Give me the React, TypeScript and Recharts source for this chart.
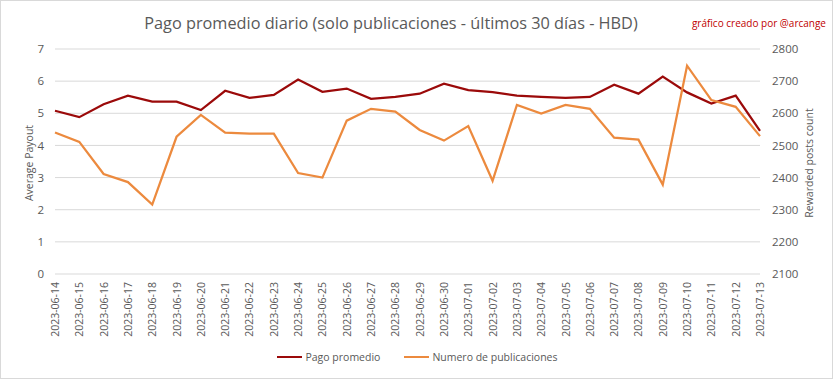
import React from 'react';
import { LineChart, Line, XAxis, YAxis, CartesianGrid, Legend } from 'recharts';

const dates = [
  '2023-06-14', '2023-06-15', '2023-06-16', '2023-06-17', '2023-06-18', '2023-06-19',
  '2023-06-20', '2023-06-21', '2023-06-22', '2023-06-23', '2023-06-24', '2023-06-25',
  '2023-06-26', '2023-06-27', '2023-06-28', '2023-06-29', '2023-06-30', '2023-07-01',
  '2023-07-02', '2023-07-03', '2023-07-04', '2023-07-05', '2023-07-06', '2023-07-07',
  '2023-07-08', '2023-07-09', '2023-07-10', '2023-07-11', '2023-07-12', '2023-07-13',
];

const pagoPromedio = [
  5.08, 4.88, 5.28, 5.55, 5.36, 5.36, 5.1, 5.7, 5.48, 5.57, 6.05, 5.67, 5.77, 5.45, 5.51,
  5.61, 5.92, 5.72, 5.66, 5.55, 5.51, 5.48, 5.51, 5.89, 5.61, 6.14, 5.65, 5.3, 5.55, 4.45,
];

const numeroPublicaciones = [
  2540, 2511, 2411, 2386, 2316, 2527, 2595, 2540, 2537, 2537, 2414, 2400, 2577, 2614, 2605,
  2548, 2515, 2560, 2390, 2626, 2599, 2626, 2614, 2524, 2518, 2378, 2748, 2641, 2620, 2529,
];

const leftTicks = [0, 1, 2, 3, 4, 5, 6, 7];
const rightTicks = [2100, 2200, 2300, 2400, 2500, 2600, 2700, 2800];

const seriesNames = ['Pago promedio', 'Numero de publicaciones'];
const seriesColors = ['#9B0A0A', '#EC8A3E'];

const data = dates.map((d, i) => ({
  date: d,
  pago: pagoPromedio[i],
  num: numeroPublicaciones[i],
}));

const FONT = '"Open Sans", sans-serif';
const GRAY = '#595959';

const XTick = (props: any) => {
  const { x, y, payload } = props;
  return (
    <text
      x={x}
      y={y}
      transform={`rotate(-90, ${x}, ${y})`}
      textAnchor="end"
      dominantBaseline="central"
      fill={GRAY}
      fontSize={10.5}
      fontFamily={FONT}
    >
      {payload.value}
    </text>
  );
};

const LegendContent = () => (
  <div
    style={{
      display: 'flex',
      justifyContent: 'center',
      alignItems: 'center',
      fontFamily: FONT,
      fontSize: 10.5,
      color: GRAY,
      height: 28,
    }}
  >
    {seriesNames.map((n, i) => (
      <div key={n} style={{ display: 'flex', alignItems: 'center', margin: '0 12px' }}>
        <div style={{ width: 25, height: 2.5, background: seriesColors[i], marginRight: 3 }} />
        <span>{n}</span>
      </div>
    ))}
  </div>
);

export default function App() {
  return (
    <div
      style={{
        position: 'relative',
        width: 833,
        height: 379,
        boxSizing: 'border-box',
        border: '1px solid #d9d9d9',
        background: '#fff',
        overflow: 'hidden',
      }}
    >
      <style>{'body{margin:0;}'}</style>
      <div
        style={{
          position: 'absolute',
          top: 10,
          left: 0,
          width: 780,
          textAlign: 'center',
          fontFamily: FONT,
          fontSize: 16.3,
          color: GRAY,
          lineHeight: '24px',
        }}
      >
        Pago promedio diario (solo publicaciones - últimos 30 días - HBD)
      </div>
      <div
        style={{
          position: 'absolute',
          top: 14,
          right: 6,
          fontFamily: FONT,
          fontSize: 10,
          color: '#C00000',
          lineHeight: '16px',
        }}
      >
        gráfico creado por @arcange
      </div>
      <div
        style={{
          position: 'absolute',
          left: 28,
          top: 162,
          transform: 'translate(-50%, -50%) rotate(-90deg)',
          fontFamily: FONT,
          fontSize: 10.5,
          color: GRAY,
          whiteSpace: 'nowrap',
        }}
      >
        Average Payout
      </div>
      <div
        style={{
          position: 'absolute',
          left: 808,
          top: 162,
          transform: 'translate(-50%, -50%) rotate(-90deg)',
          fontFamily: FONT,
          fontSize: 10.5,
          color: GRAY,
          whiteSpace: 'nowrap',
        }}
      >
        Rewarded posts count
      </div>
      <LineChart
        width={833}
        height={379}
        data={data}
        margin={{ top: 49, right: 13, bottom: 8, left: 15 }}
        style={{ position: 'absolute', top: -1, left: -1 }}
      >
        <CartesianGrid yAxisId="left" vertical={false} stroke="#d9d9d9" />
        <XAxis
          dataKey="date"
          interval={0}
          tickLine={false}
          axisLine={false}
          tickSize={0}
          tickMargin={8}
          height={69}
          tick={<XTick />}
        />
        <YAxis
          yAxisId="left"
          domain={[0, 7]}
          ticks={leftTicks}
          width={40}
          tickLine={false}
          axisLine={false}
          tickSize={0}
          tickMargin={11}
          tick={{ fill: GRAY, fontSize: 11.5, fontFamily: FONT }}
        />
        <YAxis
          yAxisId="right"
          orientation="right"
          domain={[2100, 2800]}
          ticks={rightTicks}
          width={60}
          tickLine={false}
          axisLine={false}
          tickSize={0}
          tickMargin={12}
          tick={{ fill: GRAY, fontSize: 11.5, fontFamily: FONT }}
        />
        <Legend verticalAlign="bottom" height={28} content={<LegendContent />} />
        <Line
          yAxisId="left"
          dataKey="pago"
          name={seriesNames[0]}
          stroke={seriesColors[0]}
          strokeWidth={2.25}
          dot={false}
          isAnimationActive={false}
        />
        <Line
          yAxisId="right"
          dataKey="num"
          name={seriesNames[1]}
          stroke={seriesColors[1]}
          strokeWidth={2.25}
          dot={false}
          isAnimationActive={false}
        />
      </LineChart>
    </div>
  );
}
